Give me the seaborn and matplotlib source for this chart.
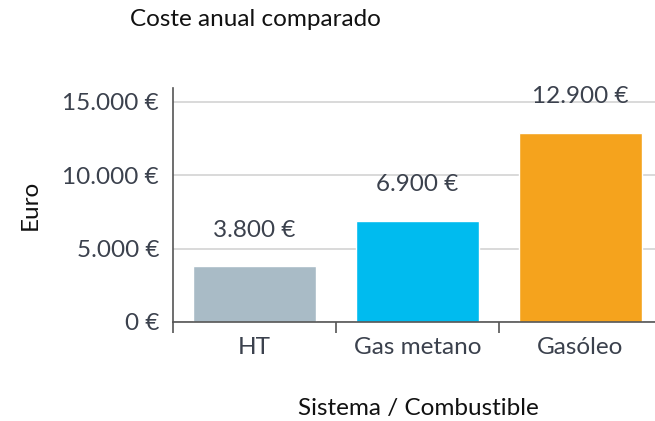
import matplotlib
matplotlib.use("Agg")
import matplotlib.pyplot as plt
import seaborn as sns
import pandas as pd

# Annual cost per heating system / fuel
categories = ["HT", "Gas metano", "Gasóleo"]
costs = [3800, 6900, 12900]
bar_colors = ["#A9BBC6", "#00BBEF", "#F5A31D"]
y_ticks = [0, 5000, 10000, 15000]


def euro(v):
    return f"{v:,.0f} €".replace(",", ".")


df = pd.DataFrame({"Sistema": categories, "Coste": costs})

sns.set_theme(style="white")
plt.rcParams["font.family"] = ["Lato", "DejaVu Sans"]
text_color = "#3B414D"
fs = 17.5

fig = plt.figure(figsize=(6.55, 4.21), dpi=100)
W, H = 655, 421
ax_left, ax_right = 173, 662
ax_top, ax_bottom = 88, 322
ax = fig.add_axes([ax_left / W, 1 - ax_bottom / H,
                   (ax_right - ax_left) / W, (ax_bottom - ax_top) / H])

sns.barplot(data=df, x="Sistema", y="Coste", hue="Sistema",
            palette=bar_colors, width=0.75, saturation=1, legend=False, ax=ax)

ax.set_ylim(0, 15950)
ax.set_xlim(-0.5, 2.5)
ax.set_yticks(y_ticks)
ax.set_yticklabels([euro(v) for v in y_ticks])
ax.yaxis.grid(True, color="#D3D3D3", linewidth=1.2)
ax.set_axisbelow(True)

# category ticks sit between bars
ax.set_xticks([0, 1, 2])
ax.set_xticks([-0.5, 0.5, 1.5], minor=True)
ax.tick_params(axis="x", which="major", length=0, pad=11,
               labelsize=fs, labelcolor=text_color)
ax.tick_params(axis="x", which="minor", length=8, width=1.2,
               color="#555555", direction="out", bottom=True)
ax.tick_params(axis="y", length=0, pad=10, labelsize=fs, labelcolor=text_color)

for side in ["top", "right"]:
    ax.spines[side].set_visible(False)
for side in ["left", "bottom"]:
    ax.spines[side].set_color("#555555")
    ax.spines[side].set_linewidth(1.2)

for i, v in enumerate(costs):
    ax.annotate(euro(v), xy=(i, v), xytext=(0, 26), textcoords="offset points",
                ha="center", va="center", fontsize=fs, color=text_color)

ax.set_ylabel("Euro", fontsize=fs, color="#111111")
ax.set_xlabel("Sistema / Combustible", fontsize=fs, color="#111111")
ax.xaxis.set_label_coords((418 - ax_left) / (ax_right - ax_left),
                          -(408 - ax_bottom) / (ax_bottom - ax_top))
ax.yaxis.set_label_coords(-(173 - 30) / (ax_right - ax_left), 0.5)
ax.xaxis.label.set_va("center")
ax.yaxis.label.set_va("center")

fig.text(130 / W, 1 - 20 / H, "Coste anual comparado", fontsize=fs,
         color="#111111", ha="left", va="center")

fig.savefig("out.png", dpi=100)
